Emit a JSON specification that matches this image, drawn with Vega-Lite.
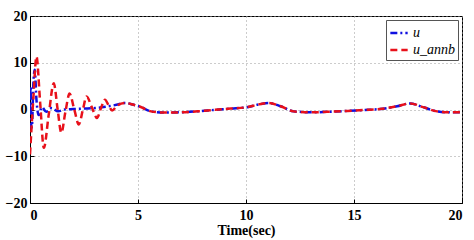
{
  "$schema": "https://vega.github.io/schema/vega-lite/v6.json",
  "width": 432,
  "height": 187,
  "autosize": {"type": "none"},
  "padding": {"left": 30, "top": 16, "right": 12, "bottom": 37},
  "background": "white",
  "config": {
    "view": {"stroke": "black", "strokeWidth": 1},
    "font": "Liberation Serif",
    "axis": {
      "labelFont": "Liberation Serif",
      "labelFontWeight": "bold",
      "labelFontSize": 14,
      "labelColor": "black",
      "titleFont": "Liberation Serif",
      "titleFontWeight": "bold",
      "titleFontSize": 14,
      "titleColor": "black",
      "domainColor": "black",
      "tickColor": "black",
      "gridColor": "#999999",
      "gridDash": [1, 3],
      "gridWidth": 1
    }
  },
  "data": {
    "values": [
      {"t": 0, "v": 0, "s": "u"},
      {"t": 0.03, "v": 5, "s": "u"},
      {"t": 0.06, "v": -4, "s": "u"},
      {"t": 0.1, "v": -3, "s": "u"},
      {"t": 0.15, "v": 5, "s": "u"},
      {"t": 0.22, "v": 8.5, "s": "u"},
      {"t": 0.3, "v": 2, "s": "u"},
      {"t": 0.4, "v": -1.2, "s": "u"},
      {"t": 0.55, "v": 0.5, "s": "u"},
      {"t": 0.75, "v": -0.5, "s": "u"},
      {"t": 1.0, "v": 0.3, "s": "u"},
      {"t": 1.3, "v": -0.4, "s": "u"},
      {"t": 1.6, "v": 0, "s": "u"},
      {"t": 2.0, "v": 0.1, "s": "u"},
      {"t": 2.5, "v": 0.2, "s": "u"},
      {"t": 3.0, "v": 0.3, "s": "u"},
      {"t": 3.5, "v": 0.6, "s": "u"},
      {"t": 4.0, "v": 1.0, "s": "u"},
      {"t": 4.4, "v": 1.4, "s": "u"},
      {"t": 4.8, "v": 1.0, "s": "u"},
      {"t": 5.1, "v": 0.6, "s": "u"},
      {"t": 5.6, "v": -0.4, "s": "u"},
      {"t": 6.2, "v": -0.65, "s": "u"},
      {"t": 7.0, "v": -0.6, "s": "u"},
      {"t": 7.74, "v": -0.4, "s": "u"},
      {"t": 8.5, "v": -0.1, "s": "u"},
      {"t": 9.28, "v": 0.2, "s": "u"},
      {"t": 10.05, "v": 0.5, "s": "u"},
      {"t": 10.6, "v": 1.1, "s": "u"},
      {"t": 11.06, "v": 1.4, "s": "u"},
      {"t": 11.6, "v": 0.7, "s": "u"},
      {"t": 12.2, "v": -0.4, "s": "u"},
      {"t": 13.1, "v": -0.6, "s": "u"},
      {"t": 14.0, "v": -0.45, "s": "u"},
      {"t": 14.7, "v": -0.3, "s": "u"},
      {"t": 15.5, "v": -0.1, "s": "u"},
      {"t": 16.2, "v": 0.1, "s": "u"},
      {"t": 17.0, "v": 0.7, "s": "u"},
      {"t": 17.6, "v": 1.3, "s": "u"},
      {"t": 18.2, "v": 0.5, "s": "u"},
      {"t": 18.85, "v": -0.4, "s": "u"},
      {"t": 19.4, "v": -0.6, "s": "u"},
      {"t": 20, "v": -0.6, "s": "u"},
      {"t": 0, "v": -9.6, "s": "u_annb"},
      {"t": 0.15, "v": 2, "s": "u_annb"},
      {"t": 0.3, "v": 11.3, "s": "u_annb"},
      {"t": 0.47, "v": 1.5, "s": "u_annb"},
      {"t": 0.64, "v": -8.2, "s": "u_annb"},
      {"t": 0.87, "v": -1, "s": "u_annb"},
      {"t": 1.1, "v": 5.6, "s": "u_annb"},
      {"t": 1.28, "v": 0, "s": "u_annb"},
      {"t": 1.45, "v": -5, "s": "u_annb"},
      {"t": 1.64, "v": -0.5, "s": "u_annb"},
      {"t": 1.83, "v": 3.4, "s": "u_annb"},
      {"t": 2.05, "v": 0, "s": "u_annb"},
      {"t": 2.26, "v": -3.2, "s": "u_annb"},
      {"t": 2.45, "v": 0, "s": "u_annb"},
      {"t": 2.62, "v": 2.8, "s": "u_annb"},
      {"t": 2.86, "v": 0.5, "s": "u_annb"},
      {"t": 3.1, "v": -1.8, "s": "u_annb"},
      {"t": 3.3, "v": 0.5, "s": "u_annb"},
      {"t": 3.47, "v": 2.1, "s": "u_annb"},
      {"t": 3.65, "v": 0.8, "s": "u_annb"},
      {"t": 3.8, "v": -0.2, "s": "u_annb"},
      {"t": 4.05, "v": 0.9, "s": "u_annb"},
      {"t": 4.4, "v": 1.4, "s": "u_annb"},
      {"t": 4.8, "v": 1.0, "s": "u_annb"},
      {"t": 5.1, "v": 0.6, "s": "u_annb"},
      {"t": 5.6, "v": -0.4, "s": "u_annb"},
      {"t": 6.2, "v": -0.65, "s": "u_annb"},
      {"t": 7.0, "v": -0.6, "s": "u_annb"},
      {"t": 7.74, "v": -0.4, "s": "u_annb"},
      {"t": 8.5, "v": -0.1, "s": "u_annb"},
      {"t": 9.28, "v": 0.2, "s": "u_annb"},
      {"t": 10.05, "v": 0.5, "s": "u_annb"},
      {"t": 10.6, "v": 1.1, "s": "u_annb"},
      {"t": 11.06, "v": 1.4, "s": "u_annb"},
      {"t": 11.6, "v": 0.7, "s": "u_annb"},
      {"t": 12.2, "v": -0.4, "s": "u_annb"},
      {"t": 13.1, "v": -0.6, "s": "u_annb"},
      {"t": 14.0, "v": -0.45, "s": "u_annb"},
      {"t": 14.7, "v": -0.3, "s": "u_annb"},
      {"t": 15.5, "v": -0.1, "s": "u_annb"},
      {"t": 16.2, "v": 0.1, "s": "u_annb"},
      {"t": 17.0, "v": 0.7, "s": "u_annb"},
      {"t": 17.6, "v": 1.3, "s": "u_annb"},
      {"t": 18.2, "v": 0.5, "s": "u_annb"},
      {"t": 18.85, "v": -0.4, "s": "u_annb"},
      {"t": 19.4, "v": -0.6, "s": "u_annb"},
      {"t": 20, "v": -0.6, "s": "u_annb"}
    ]
  },
  "mark": {"type": "line", "interpolate": "monotone", "strokeWidth": 2.5, "clip": true},
  "encoding": {
    "x": {
      "field": "t", "type": "quantitative",
      "scale": {"domain": [0, 20], "nice": false, "zero": false},
      "axis": {"title": "Time(sec)", "values": [0, 5, 10, 15, 20], "tickSize": -4, "labelPadding": 9, "titlePadding": 1, "domain": true}
    },
    "y": {
      "field": "v", "type": "quantitative",
      "scale": {"domain": [-20, 20], "nice": false},
      "axis": {"title": null, "values": [-20, -10, 0, 10, 20], "tickSize": -4, "labelPadding": 7}
    },
    "color": {
      "field": "s", "type": "nominal",
      "scale": {"domain": ["u", "u_annb"], "range": ["#1010e0", "#e8101a"]},
      "legend": {
        "title": null, "orient": "top-right", "offset": 4,
        "strokeColor": "#555555", "fillColor": "white", "padding": 3,
        "labelFont": "Liberation Serif", "labelFontStyle": "italic", "labelFontSize": 14,
        "symbolType": "stroke", "symbolStrokeWidth": 2.5, "symbolSize": 300,
        "rowPadding": -3, "labelOffset": 4
      }
    },
    "strokeDash": {
      "field": "s", "type": "nominal",
      "scale": {"domain": ["u", "u_annb"], "range": [[7, 3, 2, 3], [7, 4]]},
      "legend": {
        "title": null, "orient": "top-right", "offset": 4,
        "strokeColor": "#555555", "fillColor": "white", "padding": 3,
        "labelFont": "Liberation Serif", "labelFontStyle": "italic", "labelFontSize": 14,
        "symbolType": "stroke", "symbolStrokeWidth": 2.5, "symbolSize": 300,
        "rowPadding": -3, "labelOffset": 4
      }
    }
  }
}
